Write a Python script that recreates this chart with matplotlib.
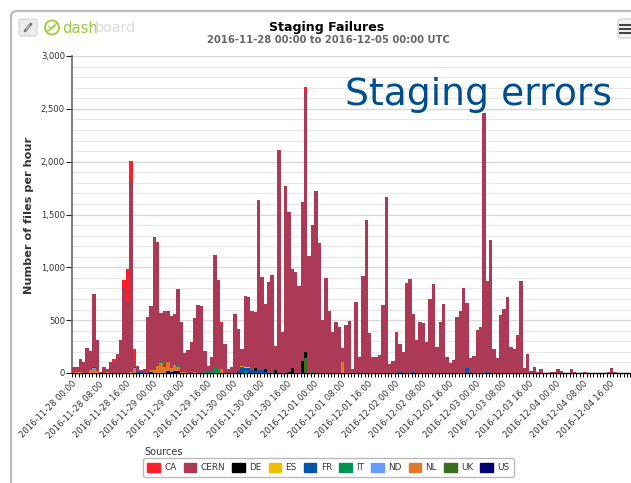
import numpy as np
import matplotlib
matplotlib.use("Agg")
import matplotlib.pyplot as plt
from matplotlib.patches import FancyBboxPatch, Patch, Circle

W, H = 631, 483
plt.rcParams['font.family'] = 'DejaVu Sans'

HOURS = 168
tick_labels = ["2016-11-28 00:00", "2016-11-28 08:00", "2016-11-28 16:00",
               "2016-11-29 00:00", "2016-11-29 08:00", "2016-11-29 16:00",
               "2016-11-30 00:00", "2016-11-30 08:00", "2016-11-30 16:00",
               "2016-12-01 00:00", "2016-12-01 08:00", "2016-12-01 16:00",
               "2016-12-02 00:00", "2016-12-02 08:00", "2016-12-02 16:00",
               "2016-12-03 00:00", "2016-12-03 08:00", "2016-12-03 16:00",
               "2016-12-04 00:00", "2016-12-04 08:00", "2016-12-04 16:00"]

cern = [54, 45, 123, 100, 240, 183, 692, 289, 12, 54, 35, 104, 111, 177, 312, 810,
        675, 1810, 62, 54, 28, 38, 533, 606, 1254, 1172, 462, 527, 484, 495, 478, 722,
        474, 182, 218, 297, 509, 640, 634, 198, 54, 138, 1072, 855, 435, 278, 38, 54,
        558, 405, 165, 674, 667, 559, 532, 1607, 871, 612, 855, 928, 234, 2110, 391, 1770,
        1510, 931, 959, 823, 1508, 2460, 1107, 1382, 1725, 1233, 505, 896, 587, 391, 486, 435,
        135, 457, 495, 41, 669, 148, 921, 1445, 382, 148, 148, 170, 644, 1663, 85, 117,
        360, 274, 202, 849, 890, 547, 312, 480, 473, 290, 700, 839, 246, 480, 653, 148,
        91, 123, 533, 590, 808, 615, 139, 164, 407, 435, 2464, 864, 1259, 224, 139, 549,
        606, 722, 246, 224, 360, 868, 44, 177, 22, 57, 13, 35, 3, 3, 13, 5,
        35, 16, 3, 3, 35, 6, 3, 3, 13, 3, 3, 3, 3, 3, 3, 5,
        44, 6, 3, 3, 3, 3, 3, 3]
ca = {12: 18, 15: 70, 16: 310, 17: 190, 18: 107, 44: 16, 56: 10, 69: 47, 96: 31}
de = {54: 30, 57: 28, 60: 25, 65: 50, 68: 80, 69: 63, 64: 10}
es = {50: 10, 51: 8, 52: 10, 53: 3}
fr = {6: 8, 18: 10, 19: 12, 20: 5, 31: 6, 49: 15, 50: 55, 51: 30, 52: 45, 53: 25,
      54: 15, 55: 30, 56: 25, 57: 10, 97: 5, 101: 8, 117: 44, 123: 10}
it = {26: 8, 30: 5, 31: 8, 39: 10, 40: 12, 41: 10, 42: 45, 43: 25, 51: 20, 58: 5, 71: 15}
nd = {6: 8, 7: 15, 18: 10}
nl = {1: 8, 2: 5, 5: 25, 6: 40, 7: 8, 10: 5, 17: 5, 18: 35, 23: 20, 24: 30, 25: 65,
      26: 95, 27: 60, 28: 85, 29: 35, 30: 60, 31: 40, 32: 12, 33: 10, 36: 8, 44: 35, 80: 105}
uk = {69: 140}
us = {23: 8, 28: 15, 29: 10, 30: 15, 31: 15, 68: 30}

source_names = ["CA", "CERN", "DE", "ES", "FR", "IT", "ND", "NL", "UK", "US"]
source_values = [ca, cern, de, es, fr, it, nd, nl, uk, us]
source_colors = ["#FF1F28", "#AC3A56", "#000000", "#EFC000", "#0055A8",
                 "#009650", "#669AFF", "#DD7A2A", "#38701F", "#000070"]

fig = plt.figure(figsize=(W / 100, H / 100), dpi=100, facecolor="white")

# overlay in pixel coordinates for the page furniture
page = fig.add_axes([0, 0, 1, 1], zorder=0)
page.set_xlim(0, W)
page.set_ylim(H, 0)
page.axis("off")
page.plot([11, 11], [16, H], color="#bdbdbd", lw=1.6)
page.plot([16, W], [11, 11], color="#bdbdbd", lw=1.6)
page.plot([11, 11.6, 13, 16], [16, 13.5, 12, 11], color="#bdbdbd", lw=1.6)
page.add_patch(FancyBboxPatch((19, 19), 18, 17, boxstyle="round,pad=0,rounding_size=2.5",
                              fc="#ececec", ec="#d0d0d0", lw=0.8))
page.plot([25, 31], [31, 24], color="#777777", lw=2.0, solid_capstyle="round")
page.plot([26.5, 29.5], [29.2, 25.8], color="#ececec", lw=0.6)
page.add_patch(FancyBboxPatch((618, 19), 20, 19, boxstyle="round,pad=0,rounding_size=2.5",
                              fc="#f4f4f4", ec="#cccccc", lw=0.8))
for yy in (24.5, 28.5, 32.5):
    page.plot([620, 631], [yy, yy], color="#444444", lw=1.5)
page.add_patch(Circle((52, 27.5), 7, fc="none", ec="#a4cc45", lw=1.4))
page.plot([47, 57], [32, 23], color="#a4cc45", lw=1.0)
page.plot([48, 52, 55], [26, 29, 26], color="#a4cc45", lw=0.8)
page.text(62, 28.5, "dash", color="#9cc83c", fontsize=10.7, va="center", ha="left")
page.text(95, 28.5, "board", color="#dcdcdc", fontsize=10.2, va="center", ha="left")

page.text(327, 27, "Staging Failures", fontsize=9.1, fontweight="bold", color="black",
          ha="center", va="center")
page.text(328, 40, "2016-11-28 00:00 to 2016-12-05 00:00 UTC", fontsize=7.2, fontweight="bold",
          color="#666666", ha="center", va="center")
page.text(29, 215, "Number of files per hour", fontsize=8.1, fontweight="bold", color="#333333",
          rotation=90, ha="center", va="center")
page.text(144, 452, "Sources", fontsize=7.0, color="#333333", ha="left", va="center")

# main plot, whose right end runs past the edge of the picture as in the reference
left, right, top, bottom = 72, 637, 56, 373
ax = fig.add_axes([left / W, 1 - bottom / H, (right - left) / W, (bottom - top) / H], zorder=1)
ax.patch.set_alpha(0)

hours = np.arange(HOURS)
stack = np.zeros(HOURS)
for name, vals, col in reversed(list(zip(source_names, source_values, source_colors))):
    if isinstance(vals, dict):
        arr = np.zeros(HOURS)
        for k, v in vals.items():
            arr[k] = v
    else:
        arr = np.array(vals, dtype=float)
    mask = arr > 0
    ax.bar(hours[mask], arr[mask], width=1, bottom=stack[mask], align="edge", color=col,
           edgecolor="none", linewidth=0, zorder=3)
    stack += arr

ax.set_xlim(0, HOURS)
ax.set_ylim(0, 3000)
ax.set_yticks(np.arange(0, 3001, 500))
ax.set_yticklabels([f"{v:,}" for v in range(0, 3001, 500)], fontsize=6.1, color="#333333")
ax.set_yticks(np.arange(0, 3001, 100), minor=True)
ax.set_xticks(np.arange(0, HOURS, 8))
ax.set_xticklabels(tick_labels, fontsize=6.1, color="#333333", rotation=45, ha="right",
                   va="top", rotation_mode="anchor")
ax.set_xticks(hours, minor=True)
ax.tick_params(axis="x", which="both", length=3.2, width=0.7, color="black", direction="out", pad=1.5)
ax.tick_params(axis="y", which="major", length=4.2, width=0.8, color="#222222", pad=0.8)
ax.tick_params(axis="y", which="minor", length=0)
ax.grid(True, axis="y", which="major", color="#d8d8d8", lw=1.0, zorder=0)
ax.grid(True, axis="y", which="minor", color="#e8e8e8", lw=0.9, zorder=0)
ax.set_axisbelow(True)
for s in ("top", "right"):
    ax.spines[s].set_visible(False)
ax.spines["left"].set_color("#666666")
ax.spines["left"].set_linewidth(1.2)
ax.spines["bottom"].set_color("black")
ax.spines["bottom"].set_linewidth(1.0)

page2 = fig.add_axes([0, 0, 1, 1], zorder=2)
page2.set_xlim(0, W)
page2.set_ylim(H, 0)
page2.axis("off")
page2.text(345, 95, "Staging errors", fontsize=27.2, color="#004F8C", ha="left", va="center")

handles = [Patch(facecolor=c, edgecolor=c, label=n) for n, c in zip(source_names, source_colors)]
leg = fig.legend(handles=handles, ncol=10, loc="center left",
                 bbox_to_anchor=(143 / W, 1 - 467.5 / H), fontsize=6.4,
                 frameon=True, fancybox=True, edgecolor="#bbbbbb", facecolor="white",
                 framealpha=1, handlelength=1.39, handleheight=1.3, handletextpad=0.48,
                 columnspacing=0.83, borderpad=0.5, borderaxespad=0, labelcolor="#333333")
leg.get_frame().set_linewidth(1.0)

fig.savefig("out.png", dpi=100)
